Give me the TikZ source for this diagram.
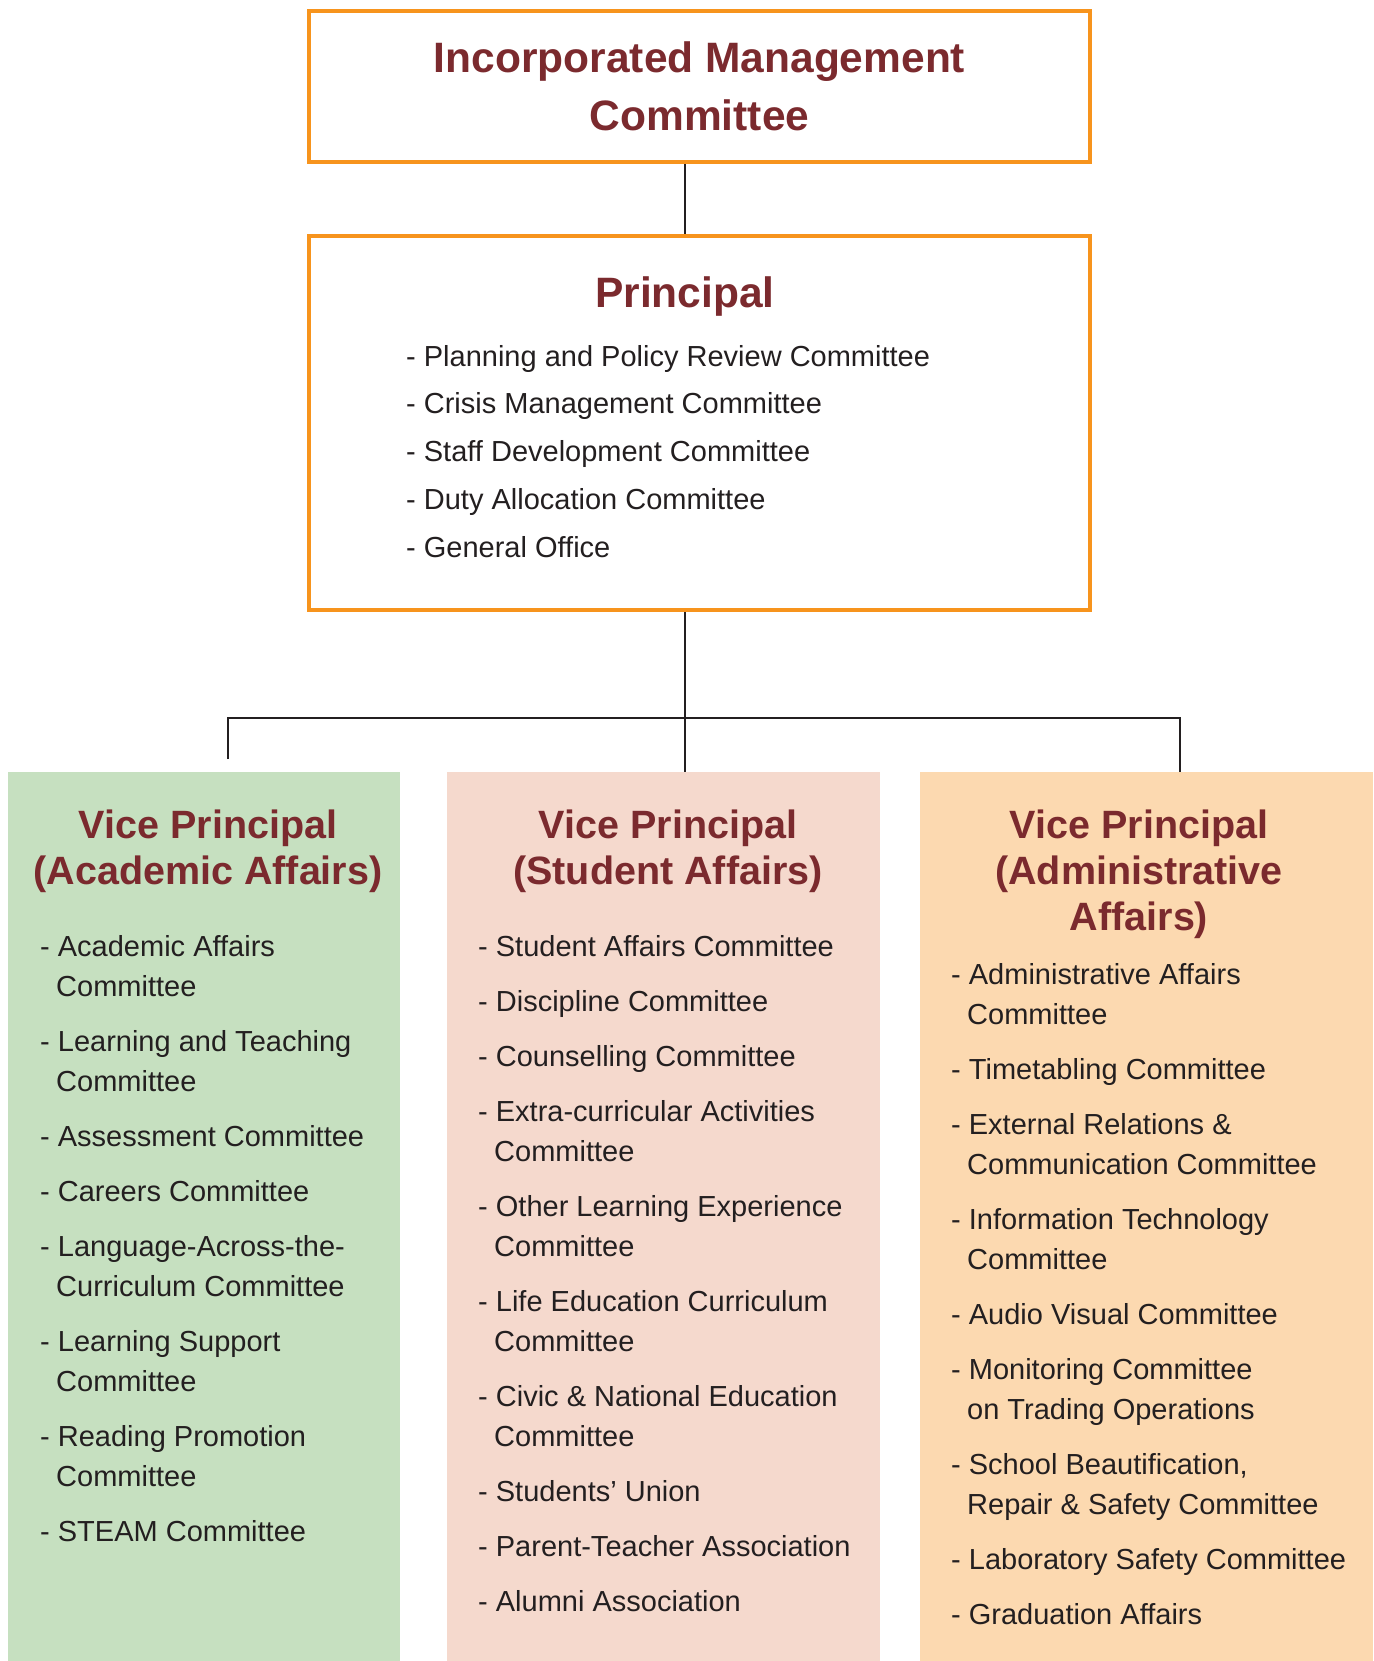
\documentclass[tikz,border=0pt]{standalone}
\usepackage{fontspec}
\setmainfont{Liberation Sans}
\usepackage{xcolor}
\definecolor{boxorange}{HTML}{F7941D}
\definecolor{titlered}{HTML}{7B2A2E}
\definecolor{acadgreen}{HTML}{C6E0C0}
\definecolor{studpink}{HTML}{F5D9CD}
\definecolor{adminpeach}{HTML}{FCD9B0}
\definecolor{linegray}{HTML}{231F20}
\def\Ind{\hspace*{16pt}}
\def\Gap{\\[15pt]}

\begin{document}
\begin{tikzpicture}[x=1pt, y=-1pt,
	frame/.style={draw=boxorange, line width=4pt, inner sep=0pt, minimum width=781pt},
	panel/.style={anchor=north west, inner sep=0pt, minimum height=889pt},
	head/.style={text=titlered, font=\bfseries\fontsize{42.5}{58}\selectfont, align=center},
	vptitle/.style={text=titlered, font=\bfseries\fontsize{39.5}{46}\selectfont, align=center, anchor=north, inner sep=0pt, execute at begin node=\strut},
	list/.style={text=linegray, font=\fontsize{29}{40}\selectfont, align=left, anchor=north west, inner sep=0pt, execute at begin node=\strut},
	conn/.style={draw=linegray, line width=2pt}]
	\useasboundingbox (0,0) rectangle (1373,1661);

	\node[frame, head, minimum height=151pt] (imc) at (699.5,86.5) {Incorporated Management\\Committee};
	\node[frame, minimum height=374pt] (principal) at (699.5,423) {};
	\node[head] (ptitle) at (685,297) {Principal};
	\node[list, font=\fontsize{29}{47.7}\selectfont] (plist) at (406,345) {- Planning and Policy Review Committee\\- Crisis Management Committee\\- Staff Development Committee\\- Duty Allocation Committee\\- General Office};

	\node[panel, fill=acadgreen, minimum width=392pt] (acad) at (8,772) {};
	\node[panel, fill=studpink, minimum width=433pt] (stud) at (447,772) {};
	\node[panel, fill=adminpeach, minimum width=453pt] (admin) at (920,772) {};

	\node[vptitle] (acadtitle) at (208,810) {Vice Principal\\(Academic Affairs)};
	\node[vptitle] (studtitle) at (668,810) {Vice Principal\\(Student Affairs)};
	\node[vptitle] (admintitle) at (1139,810) {Vice Principal\\(Administrative\\Affairs)};

	\node[list] (acadlist) at (40,935) {- Academic Affairs\\\Ind Committee\Gap
		- Learning and Teaching\\\Ind Committee\Gap
		- Assessment Committee\Gap
		- Careers Committee\Gap
		- Language-Across-the-\\\Ind Curriculum Committee\Gap
		- Learning Support\\\Ind Committee\Gap
		- Reading Promotion\\\Ind Committee\Gap
		- STEAM Committee};
	\node[list] (studlist) at (478,935) {- Student Affairs Committee\Gap
		- Discipline Committee\Gap
		- Counselling Committee\Gap
		- Extra-curricular Activities\\\Ind Committee\Gap
		- Other Learning Experience\\\Ind Committee\Gap
		- Life Education Curriculum\\\Ind Committee\Gap
		- Civic \& National Education\\\Ind Committee\Gap
		- Students’ Union\Gap
		- Parent-Teacher Association\Gap
		- Alumni Association};
	\node[list] (adminlist) at (951,963) {- Administrative Affairs\\\Ind Committee\Gap
		- Timetabling Committee\Gap
		- External Relations \&\\\Ind Communication Committee\Gap
		- Information Technology\\\Ind Committee\Gap
		- Audio Visual Committee\Gap
		- Monitoring Committee\\\Ind on Trading Operations\Gap
		- School Beautification,\\\Ind Repair \& Safety Committee\Gap
		- Laboratory Safety Committee\Gap
		- Graduation Affairs};

	\coordinate (acadtip) at (228,759);
	\coordinate (busleft) at (228,718);
	\coordinate (busright) at (1180,718);
	\draw[conn] (imc.south -| ptitle) -- (principal.north -| ptitle);
	\draw[conn] (principal.south -| ptitle) -- (stud.north -| ptitle);
	\draw[conn] (acadtip) -- (busleft) -- (busright) -- (busright |- admin.north);
\end{tikzpicture}
\end{document}
